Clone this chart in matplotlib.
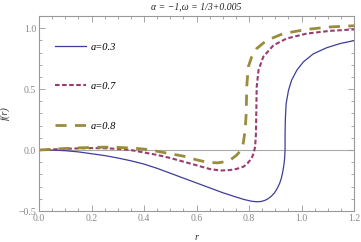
import numpy as np
import matplotlib
matplotlib.use('Agg')
import matplotlib.pyplot as plt
from matplotlib.ticker import MultipleLocator

# curves, in order along each curve (r, f(r))
blue_r = [0, 0.05, 0.1, 0.15, 0.2, 0.25, 0.3, 0.35, 0.4, 0.45, 0.5, 0.55, 0.6, 0.65, 0.7,
          0.75, 0.78, 0.81, 0.83, 0.845, 0.86, 0.873, 0.885, 0.897, 0.907, 0.916, 0.923,
          0.928, 0.932, 0.935, 0.937, 0.937, 0.938, 0.941, 0.950, 0.962, 0.982, 1.007,
          1.045, 1.096, 1.147, 1.2]
blue_f = [0, 0.0, -0.005, -0.015, -0.03, -0.045, -0.065, -0.088, -0.115, -0.15, -0.19,
          -0.23, -0.27, -0.31, -0.35, -0.385, -0.405, -0.42, -0.424, -0.422, -0.413,
          -0.398, -0.378, -0.35, -0.315, -0.275, -0.23, -0.18, -0.13, -0.075, 0.0, 0.12,
          0.25, 0.38, 0.49, 0.574, 0.656, 0.724, 0.79, 0.84, 0.874, 0.898]

purple_r = [0, 0.05, 0.1, 0.15, 0.2, 0.25, 0.3, 0.35, 0.4, 0.45, 0.5, 0.55, 0.6, 0.65,
            0.69, 0.728, 0.755, 0.778, 0.793, 0.804, 0.812, 0.817, 0.823, 0.826, 0.827,
            0.828, 0.829, 0.836, 0.854, 0.893, 0.943, 1.02, 1.109, 1.2]
purple_f = [0, 0.005, 0.01, 0.014, 0.016, 0.015, 0.01, 0.0, -0.02, -0.04, -0.065, -0.095,
            -0.125, -0.155, -0.168, -0.164, -0.153, -0.137, -0.112, -0.082, -0.055,
            -0.027, 0.027, 0.13, 0.246, 0.4, 0.52, 0.656, 0.765, 0.86, 0.915, 0.956,
            0.978, 0.99]

gold_r = [0, 0.05, 0.1, 0.15, 0.2, 0.25, 0.3, 0.35, 0.4, 0.45, 0.5, 0.55, 0.6, 0.64, 0.68,
          0.71, 0.728, 0.753, 0.769, 0.778, 0.785, 0.789, 0.790, 0.791, 0.797, 0.81,
          0.829, 0.867, 0.931, 1.02, 1.109, 1.2]
gold_f = [0, 0.007, 0.013, 0.018, 0.022, 0.024, 0.022, 0.017, 0.008, -0.01, -0.03, -0.05,
          -0.08, -0.1, -0.105, -0.095, -0.082, -0.041, 0.0, 0.06, 0.164, 0.3, 0.4, 0.52,
          0.683, 0.765, 0.833, 0.9, 0.956, 0.99, 1.01, 1.02]

labels = ['a=0.3', 'a=0.7', 'a=0.8']
colors = ['#3d3d99', '#993d71', '#998d3d']

serif = 'Liberation Serif'
gray = '#999999'

fig = plt.figure(figsize=(3.61, 2.42), dpi=100)
ax = fig.add_axes([0.108, 0.128, 0.873, 0.806])

ax.axhline(0, color='#aaaaaa', lw=0.8, zorder=1)
ax.plot(blue_r, blue_f, color=colors[0], lw=0.9, label=labels[0])
ax.plot(purple_r, purple_f, color=colors[1], lw=1.5, dashes=(2.2, 1.2), label=labels[1])
ax.plot(gold_r, gold_f, color=colors[2], lw=2.0, dashes=(4, 3), label=labels[2])

ax.set_xlim(0, 1.2)
ax.set_ylim(-0.5, 1.1)
ax.xaxis.set_major_locator(MultipleLocator(0.2))
ax.xaxis.set_minor_locator(MultipleLocator(0.05))
ax.yaxis.set_major_locator(MultipleLocator(0.5))
ax.yaxis.set_minor_locator(MultipleLocator(0.1))
ax.tick_params(which='both', direction='in', top=True, right=True, color=gray,
               labelcolor='#888888', labelsize=7, width=0.6)
ax.tick_params(which='major', length=4, pad=2)
ax.tick_params(which='minor', length=2)
for lab in ax.get_xticklabels() + ax.get_yticklabels():
    lab.set_family(serif)
for sp in ax.spines.values():
    sp.set_color(gray)
    sp.set_linewidth(0.8)

ax.set_xlabel('r', family=serif, style='italic', fontsize=7.5, color='#333333', labelpad=7)
ax.set_ylabel('f(r)', family=serif, style='italic', fontsize=7.5, color='#333333', labelpad=6)
ax.set_title('α = −1,ω = 1/3+0.005', family=serif, style='italic', fontsize=7,
             color='#222222', pad=5)

ax.legend(loc='upper left', bbox_to_anchor=(0.052, 0.865), frameon=False,
          prop={'family': serif, 'style': 'italic', 'size': 7.5},
          handlelength=2.9, handletextpad=0.5, labelspacing=2.9, borderpad=0,
          borderaxespad=0)

plt.savefig('out.png', dpi=100)
